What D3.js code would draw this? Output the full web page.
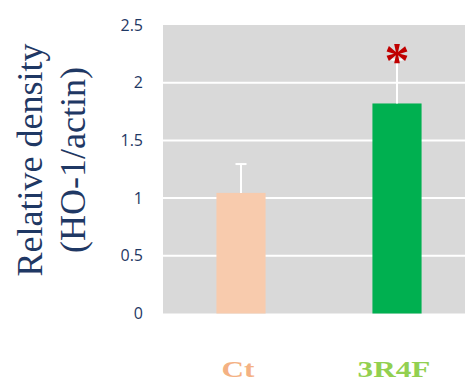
<!DOCTYPE html>
<html>
<head>
<meta charset="utf-8">
<script src="https://cdn.jsdelivr.net/npm/d3@7"></script>
<style>
  body { margin: 0; background: #fff; }
</style>
</head>
<body>
<svg id="chart"></svg>
<script>
const categories = ["Ct", "3R4F"]
const values = [1.045, 1.82]
const errors = [0.25, 0.38]
const barColors = ["#f8cbad", "#00b050"]
const labelColors = ["#f4b183", "#92d050"]
const yTicks = [0, 0.5, 1, 1.5, 2, 2.5]
const gridTicks = [0.5, 1, 1.5, 2]
const signif = ["", "*"]

const width = 465
const height = 383
const plot = { left: 163, right: 475, top: 25, bottom: 313.5 }
const navy = "#1f3864"

const svg = d3.select("#chart")
  .attr("width", width)
  .attr("height", height)

const x = d3.scaleBand()
  .domain(categories)
  .range([plot.left, plot.right])
  .paddingInner(0.685)
  .paddingOuter(0.3425)

const y = d3.scaleLinear()
  .domain([0, 2.5])
  .range([plot.bottom, plot.top])

// plot background
svg.append("rect")
  .attr("x", plot.left)
  .attr("y", y(2.5))
  .attr("width", width - plot.left)
  .attr("height", y(0) - y(2.5))
  .attr("fill", "#d9d9d9")

// gridlines
svg.append("g")
  .selectAll("line")
  .data(gridTicks)
  .enter()
  .append("line")
  .attr("x1", plot.left)
  .attr("x2", width)
  .attr("y1", d => y(d))
  .attr("y2", d => y(d))
  .attr("stroke", "#fff")
  .attr("stroke-width", 2)

// y axis, labels only
const yAxis = svg.append("g")
  .attr("transform", `translate(${plot.left - 20},0)`)
  .call(d3.axisLeft(y).tickValues(yTicks).tickSize(0).tickPadding(0).tickFormat(d3.format("")))
yAxis.select(".domain").remove()
yAxis.selectAll("text")
  .attr("fill", navy)
  .attr("font-family", "'Open Sans', sans-serif")
  .attr("font-size", 16)

// bars
svg.append("g")
  .selectAll("rect")
  .data(categories)
  .enter()
  .append("rect")
  .attr("x", d => x(d))
  .attr("width", x.bandwidth())
  .attr("y", (d, i) => y(values[i]))
  .attr("height", (d, i) => y(0) - y(values[i]))
  .attr("fill", (d, i) => barColors[i])

// error bars
const err = svg.append("g")
  .attr("stroke", "#fff")
  .attr("stroke-width", 2)
err.selectAll(".stem")
  .data(categories)
  .enter()
  .append("line")
  .attr("class", "stem")
  .attr("x1", d => x(d) + x.bandwidth() / 2)
  .attr("x2", d => x(d) + x.bandwidth() / 2)
  .attr("y1", (d, i) => y(values[i]))
  .attr("y2", (d, i) => y(values[i] + errors[i]))
err.selectAll(".cap")
  .data(categories)
  .enter()
  .append("line")
  .attr("class", "cap")
  .attr("x1", d => x(d) + x.bandwidth() / 2 - 5.5)
  .attr("x2", d => x(d) + x.bandwidth() / 2 + 5.5)
  .attr("y1", (d, i) => y(values[i] + errors[i]))
  .attr("y2", (d, i) => y(values[i] + errors[i]))

// significance asterisk
svg.append("g")
  .selectAll("text")
  .data(categories)
  .enter()
  .append("text")
  .attr("x", d => x(d) + x.bandwidth() / 2)
  .attr("y", (d, i) => y(values[i] + errors[i]) + 17)
  .attr("text-anchor", "middle")
  .attr("font-family", "'Liberation Serif', serif")
  .attr("font-weight", "bold")
  .attr("font-size", 50)
  .attr("fill", "#c00000")
  .text((d, i) => signif[i])

// category labels
svg.append("g")
  .selectAll("text")
  .data(categories)
  .enter()
  .append("text")
  .attr("transform", d => `translate(${x(d) + x.bandwidth() / 2 - 3},377) scale(1.3,1)`)
  .attr("text-anchor", "middle")
  .attr("font-family", "'Liberation Serif', serif")
  .attr("font-weight", "bold")
  .attr("font-size", 24)
  .attr("fill", (d, i) => labelColors[i])
  .text(d => d)

// y title
const title = svg.append("text")
  .attr("transform", "translate(0,160) rotate(-90)")
  .attr("text-anchor", "middle")
  .attr("font-family", "'Liberation Serif', serif")
  .attr("font-size", 36)
  .attr("fill", navy)
title.append("tspan").attr("x", 0).attr("y", 42).text("Relative density")
title.append("tspan").attr("x", 0).attr("y", 85).text("(HO-1/actin)")
</script>
</body>
</html>
